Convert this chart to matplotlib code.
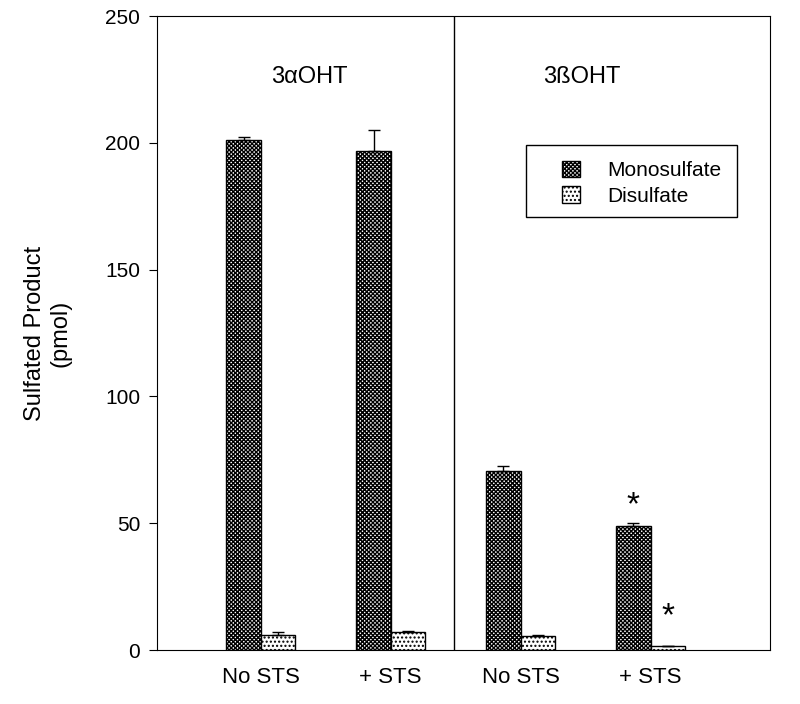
import numpy as np
import matplotlib.pyplot as plt
from matplotlib.patches import Rectangle

plt.rcParams['font.family'] = ['Liberation Sans', 'DejaVu Sans']
plt.rcParams['hatch.linewidth'] = 1.0

groups = ['No STS', '+ STS', 'No STS', '+ STS']
mono = [201, 197, 70.5, 49]
mono_err = [1.5, 8, 2, 1]
di = [6, 7, 5.5, 1.5]
di_err = [1, 0.3, 0.3, 0.2]
panels = ['3\u03b1OHT', '3\u00dfOHT']

x = np.arange(1, 5)
w = 0.265

fig = plt.figure(figsize=(8, 7.04), dpi=100)
ax = fig.add_axes([0.196, 0.0767, 0.766, 0.9003])

ax.bar(x - w / 2, mono, w, color='white', edgecolor='black', hatch='xxxxxxxx',
       linewidth=1, label='Monosulfate')
ax.bar(x + w / 2, di, w, color='white', edgecolor='black', hatch='....',
       linewidth=1, label='Disulfate')
ax.errorbar(x - w / 2, mono, yerr=[np.zeros(4), mono_err], fmt='none', ecolor='black',
            elinewidth=1, capsize=4)
ax.errorbar(x + w / 2, di, yerr=[np.zeros(4), di_err], fmt='none', ecolor='black',
            elinewidth=1, capsize=4)

ax.axvline(2.49, color='black', linewidth=1)
ax.text(1.37, 226, panels[0], ha='center', va='center', fontsize=17)
ax.text(3.47, 226, panels[1], ha='center', va='center', fontsize=17)

ax.text(4 - w / 2, 57, '*', ha='center', va='center', fontsize=24)
ax.text(4 + w / 2, 13, '*', ha='center', va='center', fontsize=24)

ax.set_xlim(0.2, 4.915)
ax.set_ylim(0, 250)
ax.set_yticks([0, 50, 100, 150, 200, 250])
ax.set_xticks(x)
ax.set_xticklabels(groups, fontsize=16)
ax.tick_params(axis='x', length=0, pad=12)
ax.tick_params(axis='y', labelsize=15, direction='out', length=6, pad=6)
ax.set_ylabel('Sulfated Product\n(pmol)', fontsize=17, labelpad=24)

# legend box drawn separately so the swatches sit inset like the original
ax.add_patch(Rectangle((0.602, 0.683), 0.344, 0.1135, transform=ax.transAxes,
                       facecolor='white', edgecolor='black', linewidth=1, zorder=4))
leg = ax.legend(loc='upper left', bbox_to_anchor=(0.662, 0.772), fontsize=15,
                frameon=False, handlelength=0.85, handleheight=0.85, borderpad=0,
                handletextpad=1.3, labelspacing=0.3, borderaxespad=0)
leg.set_zorder(5)

plt.savefig('out.png')
